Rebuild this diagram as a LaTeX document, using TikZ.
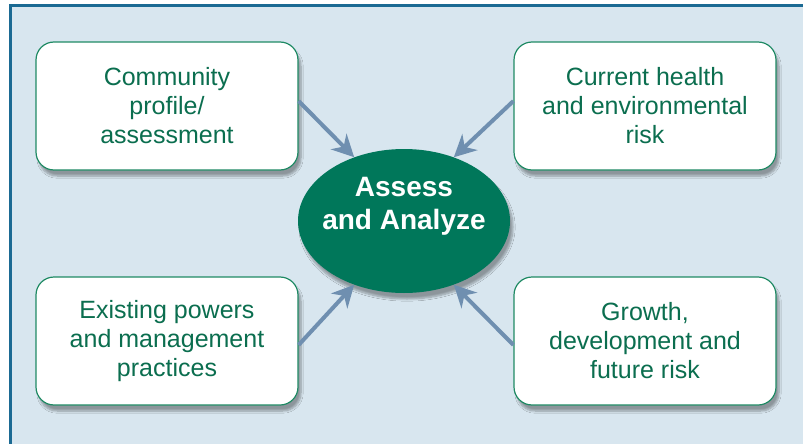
\documentclass[tikz,border=0pt]{standalone}
\usepackage{fontspec}
\setmainfont{Liberation Sans}
\usetikzlibrary{shapes.geometric,arrows.meta,shadows.blur}
\definecolor{bgblue}{HTML}{D8E6EF}
\definecolor{frameblue}{HTML}{1B6A93}
\definecolor{boxgreen}{HTML}{1F8A64}
\definecolor{textgreen}{HTML}{0B6E4F}
\definecolor{ovalgreen}{HTML}{00775A}
\definecolor{arrowblue}{HTML}{6F8FB0}
\tikzset{
  factor/.style={draw=boxgreen, line width=1.2pt, fill=white, rounded corners=18pt,
    minimum width=262pt, minimum height=128pt, align=center, text=textgreen,
    font=\fontsize{25}{29}\selectfont,
    blur shadow={shadow xshift=3pt, shadow yshift=-6pt, shadow blur steps=8, shadow opacity=35}},
  hub/.style={ellipse, fill=ovalgreen, minimum width=212pt, minimum height=144pt, inner sep=0pt,
    blur shadow={shadow xshift=3pt, shadow yshift=-6pt, shadow blur steps=8, shadow opacity=35}},
  feed/.style={arrowblue, line width=4pt, -{Stealth[length=22pt, width=22pt, inset=7pt]}}
}
\begin{document}
\begin{tikzpicture}[x=1pt,y=-1pt]
\useasboundingbox (0,0) rectangle (803,444);
% frame
\fill[bgblue] (10,6) rectangle (803,444);
\draw[frameblue, line width=3pt] (803,6) -- (10,6) -- (10,444);
% the four inputs
\node[factor] (tl) at (167,106) {Community\\profile/\\assessment};
\node[factor] (tr) at (645,106) {Current health\\and environmental\\risk};
\node[factor] (bl) at (167,341) {Existing powers\\and management\\practices};
\node[factor] (br) at (645,341) {Growth,\\development and\\future risk};
% centre
\node[hub] (aa) at (404,221) {};
\node[text=white, align=center, font=\fontsize{28}{33}\selectfont\bfseries]
  (aatext) at ([yshift=15pt]aa.center) {Assess\\and Analyze};
% arrows into the centre
\draw[feed] ([yshift=5pt]tl.east) -- (aa.128);
\draw[feed] ([yshift=5pt]tr.west) -- (aa.52);
\draw[feed] ([yshift=-4pt]bl.east) -- (aa.232);
\draw[feed] ([yshift=-4pt]br.west) -- (aa.308);
\end{tikzpicture}
\end{document}
